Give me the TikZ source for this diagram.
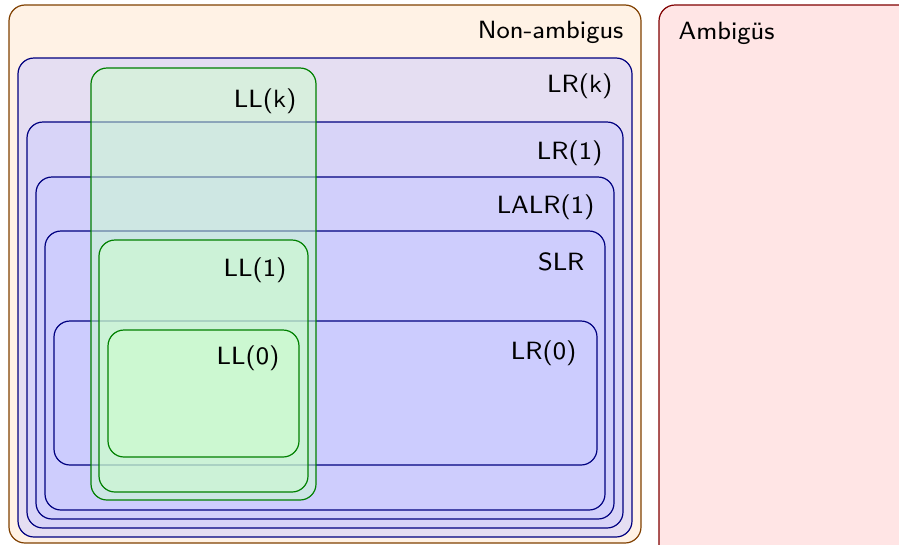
\documentclass[tikz,border=0pt]{standalone}
\begin{document}
\begin{tikzpicture}[x=1pt,y=-1pt,
  setbox/.style={rounded corners=16pt,line width=1.2pt},
  nonamb/.style={setbox,draw=orange!50!black,fill=orange!10},
  amb/.style={setbox,draw=red!50!black,fill=red!10},
  lrbox/.style={setbox,draw=blue!50!black,fill=blue!20,fill opacity=0.5},
  llbox/.style={setbox,draw=green!50!black,fill=green!20,fill opacity=0.5},
  lbl/.style={inner sep=0pt,font=\sffamily\fontsize{8}{9.6}\selectfont,text=black,scale=3.12,transform shape}]
\useasboundingbox (0,0) rectangle (899,544);
\clip (0,0) rectangle (899,544);
% outer sets
\draw[nonamb] (9,5) rectangle (641,543);
\draw[amb] (659,5) rectangle (930,580);
% LR family
\draw[lrbox] (18,58) rectangle (632,537);
\draw[lrbox] (27,122) rectangle (623,528);
\draw[lrbox] (36,177) rectangle (614,519);
\draw[lrbox] (45,231) rectangle (605,510);
\draw[lrbox] (54,321) rectangle (597,465);
% LL family
\draw[llbox] (91,68) rectangle (316,500);
\draw[llbox] (99,240) rectangle (308,492);
\draw[llbox] (108,330) rectangle (299,457);
% labels
\node[lbl,anchor=east] (nonambl) at (624,32) {Non-ambigus};
\node[lbl,anchor=west] (ambl) at (678,33) {Ambigüs};
\node[lbl,anchor=east] (lrk) at (613,86) {LR(k)};
\node[lbl,anchor=east] (lr1) at (603,153) {LR(1)};
\node[lbl,anchor=east] (lalr) at (595,207) {LALR(1)};
\node[lbl,anchor=east] (slr) at (585,262) {SLR};
\node[lbl,anchor=east] (lr0) at (577,353) {LR(0)};
\node[lbl,anchor=east] (llk) at (297,101) {LL(k)};
\node[lbl,anchor=east] (ll1) at (287,270) {LL(1)};
\node[lbl,anchor=east] (ll0) at (280,358) {LL(0)};
\end{tikzpicture}
\end{document}
